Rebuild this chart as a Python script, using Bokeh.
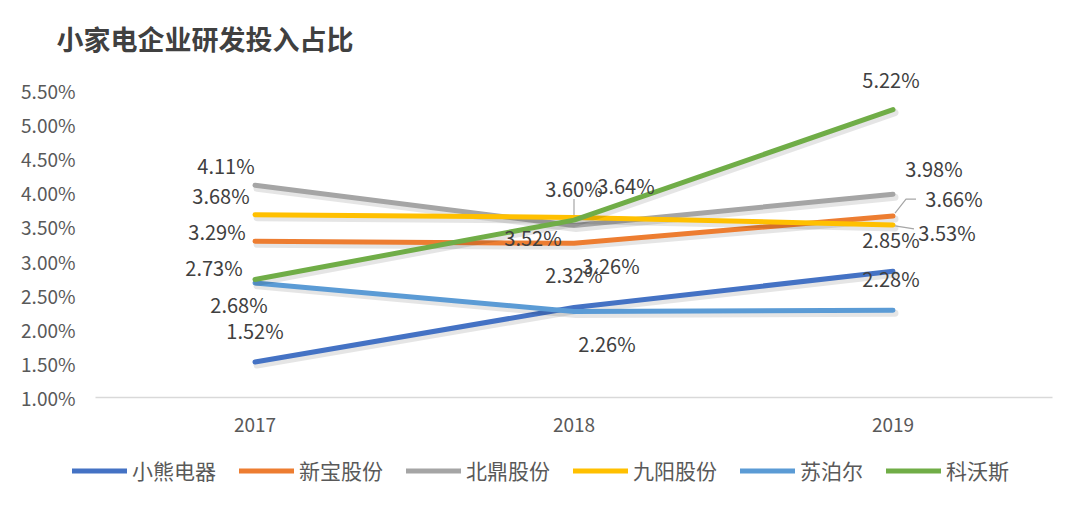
from bokeh.plotting import figure
from bokeh.models import (ColumnDataSource, Range1d, FixedTicker, PrintfTickFormatter,
                          Legend, LegendItem)
from bokeh.transform import dodge
from bokeh.core.properties import value
from bokeh.embed import file_html
from bokeh.resources import INLINE

# ---------------- data ----------------
title_text = "小家电企业研发投入占比"
years = [2017, 2018, 2019]
series_names = ["小熊电器", "新宝股份", "北鼎股份", "九阳股份", "苏泊尔", "科沃斯"]
xiaoxiong = [1.52, 2.32, 2.85]
xinbao = [3.29, 3.26, 3.66]
beiding = [4.11, 3.52, 3.98]
jiuyang = [3.68, 3.64, 3.53]
supor = [2.68, 2.26, 2.28]
ecovacs = [2.73, 3.60, 5.22]
y_ticks = [1.0, 1.5, 2.0, 2.5, 3.0, 3.5, 4.0, 4.5, 5.0, 5.5]

series_values = [xiaoxiong, xinbao, beiding, jiuyang, supor, ecovacs]

# ---------------- styles / layout ----------------
colors = ["#4472C4", "#ED7D31", "#A5A5A5", "#FFC000", "#5B9BD5", "#70AD47"]
# data-label pixel offsets (dx, dy; screen, dy positive = down)
label_offsets = [
    [(0, -32), (0, -33), (-2, -32)],
    [(-38, -10), (37, 22), (61, -18)],
    [(-29, -20), (-41, 12), (41, -26)],
    [(-34, -19), (52, -32), (54, 8)],
    [(-16, 22), (33, 32), (-2, -32)],
    [(-41, -12), (0, -32), (-2, -30)],
]
# leader lines: (series index, year index, list of pixel offsets from the point)
leaders = [
    (5, 1, [(0, -5), (0, -21)]),
    (1, 2, [(2, -3), (13, -17), (23, -17)]),
    (3, 2, [(2, 1), (21, 4)]),
]
FONT = "Noto Sans CJK SC"
TXT = "#404040"
AX = "#595959"

W, H = 1064, 492
TOP = 66                 # frame top (px)
AXIS_TOP_PX = 90         # pixel row of the 5.50% tick
PX_PER_YEAR = 319.0
PX_PER_UNIT = 307.0 / (y_ticks[-1] - y_ticks[0])
X_START = years[0] - 0.5 - 95.0 / PX_PER_YEAR
X_END = X_START + W / PX_PER_YEAR
Y_END = y_ticks[-1] + (AXIS_TOP_PX - TOP) / PX_PER_UNIT
Y_START = Y_END - (H - TOP) / PX_PER_UNIT

p = figure(width=W, height=H, x_range=Range1d(X_START, X_END),
           y_range=Range1d(Y_START, Y_END), output_backend="svg",
           toolbar_location=None, min_border_left=0, min_border_right=0,
           min_border_top=TOP, min_border_bottom=0)
p.outline_line_color = None
p.background_fill_color = "white"
p.border_fill_color = "white"
p.xgrid.grid_line_color = None
p.ygrid.grid_line_color = None

p.title.text = title_text
p.title.text_font = FONT
p.title.text_font_size = "27px"
p.title.text_font_style = "bold"
p.title.text_color = TXT
p.title.align = "left"
p.title.offset = 56
p.title.standoff = 17

p.yaxis.fixed_location = years[0] - 0.5
p.yaxis.ticker = FixedTicker(ticks=y_ticks)
p.yaxis.formatter = PrintfTickFormatter(format="%.2f%%")
p.yaxis.axis_line_color = None
p.yaxis.major_tick_line_color = None
p.yaxis.minor_tick_line_color = None
p.yaxis.major_label_text_font = FONT
p.yaxis.major_label_text_font_size = "19px"
p.yaxis.major_label_text_color = AX
p.yaxis.major_label_standoff = 14

p.xaxis.fixed_location = y_ticks[0]
p.xaxis.ticker = FixedTicker(ticks=years)
p.xaxis.formatter = PrintfTickFormatter(format="%d")
p.xaxis.axis_line_color = None
p.xaxis.major_tick_line_color = None
p.xaxis.minor_tick_line_color = None
p.xaxis.major_label_text_font = FONT
p.xaxis.major_label_text_font_size = "19px"
p.xaxis.major_label_text_color = AX
p.xaxis.major_label_standoff = 14

# category-axis baseline spanning the year bands
p.segment(x0=[years[0] - 0.5], x1=[years[-1] + 0.5], y0=[y_ticks[0]], y1=[y_ticks[0]],
          line_color="#D9D9D9", line_width=1.5)

items = []
renderers = []
for name, vals, col, offs in zip(series_names, series_values, colors, label_offsets):
    src = ColumnDataSource(dict(
        x=years, y=vals,
        lab=["%.2f%%" % v for v in vals],
        dx=[o[0] for o in offs], dy=[o[1] for o in offs],
    ))
    # soft shadow
    p.line(x=dodge("x", 2.0 / PX_PER_YEAR), y=dodge("y", -3.0 / PX_PER_UNIT), source=src,
           line_color="black", line_alpha=0.10, line_width=7, line_cap="round")
    r = p.line(x="x", y="y", source=src, line_color=col, line_width=5,
               line_cap="round", line_join="round")
    renderers.append(src)
    items.append(LegendItem(label=name, renderers=[r]))

# leader lines
lx, ly = [], []
for si, yi, pts in leaders:
    x0, y0 = years[yi], series_values[si][yi]
    lx.append([x0 + dx / PX_PER_YEAR for dx, dy in pts])
    ly.append([y0 - dy / PX_PER_UNIT for dx, dy in pts])
p.multi_line(xs=lx, ys=ly, line_color="#A6A6A6", line_width=1.2)

for src in renderers:
    p.text(x="x", y="y", text="lab", source=src, x_offset="dx", y_offset="dy",
           text_font=value(FONT), text_font_size="20px", text_color=TXT,
           text_align="center", text_baseline="middle")

legend = Legend(items=items, orientation="horizontal", location=(72, 7),
                glyph_width=55, glyph_height=21, label_standoff=5, spacing=23,
                label_text_font=FONT, label_text_font_size="21px",
                label_text_color=AX, label_height=21, padding=0, margin=0,
                border_line_color=None, background_fill_alpha=0)
p.add_layout(legend)

open("out.html", "w").write(file_html(p, INLINE))
